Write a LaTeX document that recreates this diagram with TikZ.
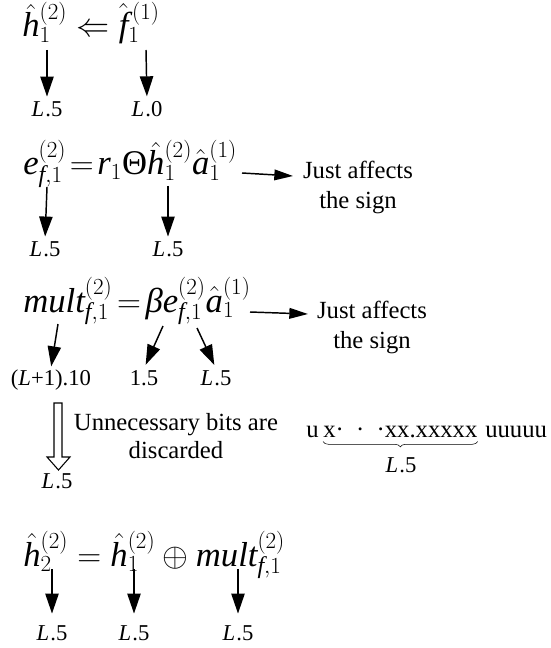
\documentclass[tikz,border=0pt]{standalone}
\usepackage{fontspec}
\setmainfont{Liberation Serif}
\usetikzlibrary{arrows.meta,decorations.pathreplacing,positioning}

\DeclareMathSizes{26}{26}{18}{13}
\newcommand{\vr}[1]{\mathit{#1}}

\tikzset{
  eqn/.style={anchor=base west, inner sep=0pt, font=\fontsize{26}{30}\selectfont},
  lbl/.style={anchor=base, inner sep=1pt, font=\fontsize{17}{20}\selectfont},
  note/.style={align=center, inner sep=0pt, font=\fontsize{18.5}{22.5}\selectfont},
  bits/.style={anchor=base west, inner sep=0pt, font=\fontsize{18.5}{22.5}\selectfont},
  down/.style={-{Triangle[length=15pt,width=10pt]}, line width=1.1pt, shorten >=3pt},
  side/.style={-{Triangle[length=14pt,width=8pt]}, line width=1.1pt},
}

\begin{document}
\begin{tikzpicture}[x=0.75pt,y=-0.75pt]
\useasboundingbox (0,0) rectangle (550,648);

% Primera linea
\node[eqn] (eqA) at (22,37) {$\hat{\vr{h}}_1^{(2)} \Leftarrow \hat{\vr{f}}_1^{\,(1)}$};
\coordinate (sA1) at (47,50);
\coordinate (sA2) at (146,50);
\node[lbl] (lA1) at (47,117) {\textit{L}\kern1pt.5};
\node[lbl] (lA2) at (147,117) {\textit{L}\kern1pt.0};
\draw[down] (sA1) -- (lA1.north);
\draw[down] (sA2) -- (lA2.north);

% Segunda linea
\node[eqn] (eqB) at (23,175) {$\thickmuskip=2mu \vr{e}_{\vr{f},1}^{(2)} = \vr{r}_1\mathrm{Θ}\hat{\vr{h}}_1^{(2)}\hat{\vr{a}}_1^{(1)}$};
\coordinate (sB1) at (47,187);
\coordinate (sB2) at (168,186);
\node[lbl] (lB1) at (45,257) {\textit{L}\kern1pt.5};
\node[lbl] (lB2) at (168,257) {\textit{L}\kern1pt.5};
\draw[down] (sB1) -- (lB1.north);
\draw[down] (sB2) -- (lB2.north);
\node[note] (nB) at (358,187) {Just affects\\the sign};
\coordinate (sB0) at (242,173);
\coordinate (eB0) at (293,176);
\draw[side] (sB0) -- (eB0);

% Tercera linea
\node[eqn] (eqC) at (23,312) {$\thickmuskip=2.5mu \vr{mult}_{\vr{f},1}^{(2)} = \vr{β}\vr{e}_{\vr{f},1}^{(2)}\hat{\vr{a}}_1^{(1)}$};
\coordinate (sC1) at (58,324);
\coordinate (sC2) at (163,326);
\coordinate (sC3) at (197,328);
\node[lbl] (lC1) at (51,385) {(\textit{L}+1).10};
\node[lbl] (lC2) at (144,385) {1.5};
\node[lbl] (lC3) at (216,385) {\textit{L}\kern1pt.5};
\draw[down, shorten >=1pt] (sC1) -- (lC1.north);
\draw[down] (sC2) -- (lC2.north);
\draw[down] (sC3) -- (lC3.north);
\node[note] (nC) at (372,327) {Just affects\\the sign};
\coordinate (sC0) at (250,312);
\coordinate (eC0) at (308,314);
\draw[side] (sC0) -- (eC0);

% Bits descartados
\coordinate (dTop) at (54,403);
\draw[line width=0.8pt] (dTop) -- ++(0,54) -- ++(-7,0) -- ++(11.5,13)
  -- ++(11.5,-13) -- ++(-8,0) -- ++(0,-54) -- cycle;
\node[lbl] (lD) at (57,488) {\textit{L}\kern1pt.5};
\node[note, font=\fontsize{18.5}{21}\selectfont] (nD) at (176,436) {Unnecessary bits are\\discarded};

\node[bits] (uL) at (306,437) {u};
\node[bits] (xs) at (323,437) {x·\hspace{0.5em}·\hspace{0.5em}·xx.xxxxx};
\node[bits] (uR) at (485,437) {uuuuu};
\draw[decorate, decoration={brace, mirror, amplitude=4pt}]
  ([yshift=-3pt]xs.south west) -- ([yshift=-3pt]xs.south east);
\node[lbl] (lE) at (401,472) {\textit{L}\kern1pt.5};

% Cuarta linea
\node[eqn] (eqD) at (23,566) {$\hat{\vr{h}}_2^{(2)} = \hat{\vr{h}}_1^{(2)} \oplus \vr{mult}_{\vr{f},1}^{(2)}$};
\foreach \i/\x in {1/52, 2/134, 3/238} {
  \coordinate (sD\i) at (\x,569);
  \node[lbl] (lD\i) at (\x,640) {\textit{L}\kern1pt.5};
  \draw[down, shorten >=7.5pt] (sD\i) -- (lD\i.north);
}
\end{tikzpicture}
\end{document}
